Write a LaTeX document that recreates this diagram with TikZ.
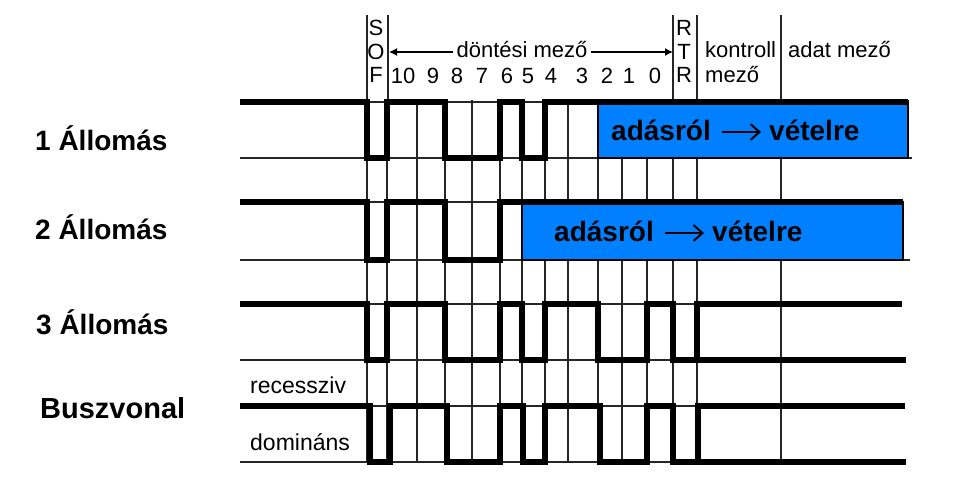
\documentclass[tikz,border=0pt]{standalone}
\usepackage{fontspec}
\setmainfont{Liberation Sans}
\usetikzlibrary{arrows.meta}
\definecolor{canblue}{RGB}{0,128,255}
\begin{document}
\begin{tikzpicture}[x=1pt,y=-1pt,
  grid/.style={line width=1.3pt,draw=black!85},
  wave/.style={line width=5.2pt,line join=miter,line cap=butt},
  box/.style={fill=canblue,draw=black,line width=1.2pt},
  hdr/.style={font=\fontsize{22}{24}\selectfont,inner sep=0pt},
  side/.style={font=\fontsize{23}{25}\selectfont,inner sep=0pt,anchor=west},
  lbl/.style={font=\bfseries\fontsize{28}{30}\selectfont,inner sep=0pt,anchor=west},
  boxtxt/.style={font=\bfseries\fontsize{28}{30}\selectfont,inner sep=0pt,anchor=west},
  boxarr/.style={line width=2pt,-{Straight Barb[length=9pt,width=16pt,line width=2pt]}}]
\useasboundingbox[fill=white] (0,0) rectangle (962,503);

% grid
\foreach \x in {367,387,417,445,472,500,522,545,568,598,622,647,673,697,781}
  \draw[grid] (\x,100) -- (\x,462);
\foreach \x in {367,388,673,697,781}
  \draw[grid] (\x,15) -- (\x,100);
\foreach \y in {102,202,304,406}
  \draw[grid] (367,\y) -- (697,\y);
\draw[grid] (240,158) -- (912,158);
\draw[grid] (240,260) -- (910,260);
\draw[grid] (240,360) -- (906,360);
\draw[grid] (240,462) -- (906,462);

% blue boxes
\filldraw[box] (598,101) rectangle (908,158);
\filldraw[box] (522,202) rectangle (903,260);
\node[boxtxt] (a1) at (611,130) {adásról};
\node[boxtxt] (v1) at (769,130) {vételre};
\draw[boxarr] ([xshift=11pt,yshift=-2pt]a1.east) -- ([xshift=-8pt,yshift=-2pt]v1.west);
\node[boxtxt] (a2) at (554,231) {adásról};
\node[boxtxt] (v2) at (712,231) {vételre};
\draw[boxarr] ([xshift=11pt,yshift=-2pt]a2.east) -- ([xshift=-8pt,yshift=-2pt]v2.west);

% waveforms
\draw[wave] (240,102) -- (367,102) -- (367,158) -- (387,158) -- (387,102) -- (445,102)
  -- (445,158) -- (500,158) -- (500,102) -- (522,102) -- (522,158) -- (545,158)
  -- (545,102) -- (908,102);
\draw[wave] (240,202) -- (367,202) -- (367,260) -- (387,260) -- (387,202) -- (445,202)
  -- (445,260) -- (500,260) -- (500,202) -- (903,202);
\draw[wave] (240,304) -- (367,304) -- (367,360) -- (387,360) -- (387,304) -- (445,304)
  -- (445,360) -- (500,360) -- (500,304) -- (522,304) -- (522,360) -- (545,360)
  -- (545,304) -- (598,304) -- (598,360) -- (647,360) -- (647,304) -- (673,304)
  -- (673,360) -- (906,360);
\draw[wave] (697,360) -- (697,304) -- (902,304);
\draw[wave] (240,406) -- (370,406) -- (370,462) -- (390,462) -- (390,406) -- (447,406)
  -- (447,462) -- (500,462) -- (500,406) -- (523,406) -- (523,462) -- (545,462)
  -- (545,406) -- (600,406) -- (600,462) -- (647,462) -- (647,406) -- (673,406)
  -- (673,462) -- (906,462);
\draw[wave] (698,462) -- (698,406) -- (905,406);

% header
\node[hdr] (s1) at (376,28) {S};
\node[hdr] (s2) at (376,52) {O};
\node[hdr] (s3) at (376,75) {F};
\node[hdr] (r1) at (684,28) {R};
\node[hdr] (r2) at (684,52) {T};
\node[hdr] (r3) at (684,75) {R};
\coordinate (al) at (389,52);
\coordinate (ar) at (673,52);
\draw[line width=1.4pt,{Latex[length=8pt,width=8pt]}-{Latex[length=8pt,width=8pt]}] (al) -- (ar);
\node[hdr,fill=white,inner xsep=4pt,inner ysep=2pt] (dm) at (522,50) {döntési mező};
\foreach \x/\t in {403/10,433/9,457/8,482/7,507/6,528/5,551/4,582/3,607/2,629/1,655/0}
  \node[hdr] (b\t) at (\x,76) {\t};
\node[hdr,anchor=west] (k1) at (705,50) {kontroll};
\node[hdr,anchor=west] (k2) at (705,75) {mező};
\node[hdr,anchor=west] (ad) at (788,50) {adat mező};

% row labels
\node[lbl] (l1) at (35,138) {1 Állomás};
\node[lbl] (l2) at (35,227) {2 Állomás};
\node[lbl] (l3) at (36,322) {3 Állomás};
\node[lbl,font=\bfseries\fontsize{29}{31}\selectfont] (l4) at (40,408) {Buszvonal};
\node[side] (rc) at (250,385) {recessziv};
\node[side] (dn) at (250,442) {domináns};
\end{tikzpicture}
\end{document}
